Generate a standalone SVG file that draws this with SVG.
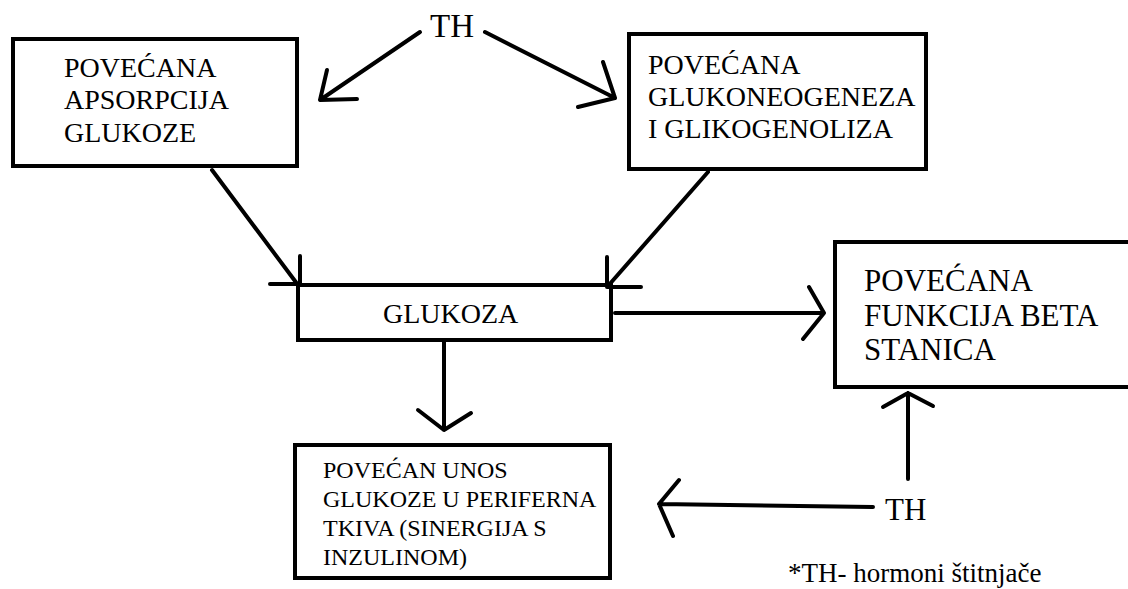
<svg xmlns="http://www.w3.org/2000/svg" width="1128" height="589" viewBox="0 0 1128 589">
<style>
.box{fill:#fff;stroke:#000;stroke-width:4}
.t{font-family:"Liberation Serif","Times New Roman",serif;fill:#000}
.c{fill:none;stroke:#000;stroke-width:4;stroke-linecap:round;stroke-linejoin:round}
</style>
<rect width="1128" height="589" fill="#fff"/>
<g id="n1">
<rect class="box" x="13" y="39" width="284" height="127"/>
<text class="t" font-size="28" x="64" y="77">POVEĆANA</text>
<text class="t" font-size="28" x="64" y="109">APSORPCIJA</text>
<text class="t" font-size="28" x="64" y="142">GLUKOZE</text>
</g>
<g id="n2">
<rect class="box" x="629" y="34" width="297" height="135"/>
<text class="t" font-size="28" x="648" y="74">POVEĆANA</text>
<text class="t" font-size="28" x="648" y="106">GLUKONEOGENEZA</text>
<text class="t" font-size="28" x="648" y="138">I GLIKOGENOLIZA</text>
</g>
<g id="n3">
<rect class="box" x="298" y="285" width="313" height="55"/>
<text class="t" font-size="28" x="383" y="323">GLUKOZA</text>
</g>
<g id="n4">
<rect class="box" x="835" y="242" width="310" height="145"/>
<text class="t" font-size="31" x="864" y="291">POVEĆANA</text>
<text class="t" font-size="31" x="864" y="326">FUNKCIJA BETA</text>
<text class="t" font-size="31" x="864" y="360">STANICA</text>
</g>
<g id="n5">
<rect class="box" x="295" y="445" width="315" height="133"/>
<text class="t" font-size="24" x="323" y="478">POVEĆAN UNOS</text>
<text class="t" font-size="24" x="323" y="507">GLUKOZE U PERIFERNA</text>
<text class="t" font-size="24" x="323" y="536">TKIVA (SINERGIJA S</text>
<text class="t" font-size="24" x="323" y="565">INZULINOM)</text>
</g>
<g id="th1">
<text class="t" font-size="33" x="430" y="37">TH</text>
</g>
<g id="th2">
<text class="t" font-size="31" x="885" y="520">TH</text>
</g>
<g id="note">
<text class="t" font-size="27" x="788" y="582">*TH- hormoni štitnjače</text>
</g>
<g id="connectors">
<path class="c" d="M420,32 L320,100 M327,70 L320,100 L357,99"/>
<path class="c" d="M485,32 L615,98 M603,62 L615,98 L578,107"/>
<path class="c" d="M212,170 L298,285 M300,256 V285 M270,284 H298"/>
<path class="c" d="M708,172 L608,286 M607,257 V287 M607,287 H641"/>
<path class="c" d="M615,313 H824 M809,287 L824,313 L803,339"/>
<path class="c" d="M444,340 V430 M418,410 L444,430 L471,413"/>
<path class="c" d="M908,479 V393 M883,407 L908,393 L933,406"/>
<path class="c" d="M873,507 L659,504 M679,480 L659,504 L673,536"/>
</g>
</svg>
